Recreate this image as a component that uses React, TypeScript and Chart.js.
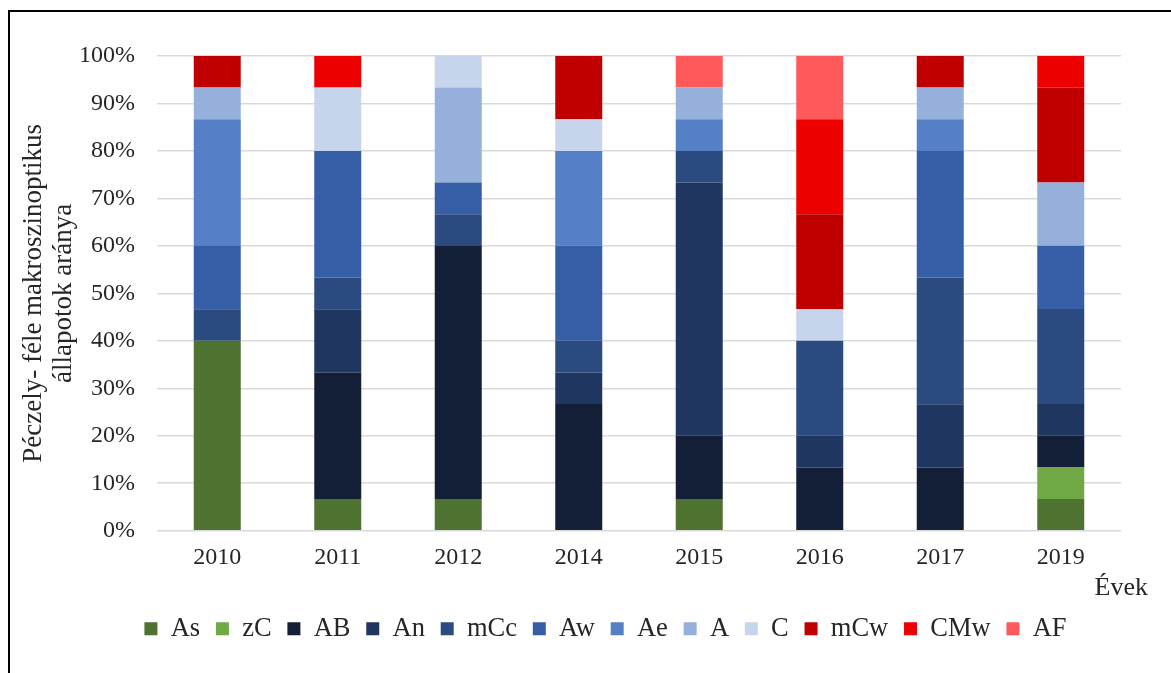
import React, { useEffect, useRef } from "react";
import { Chart, registerables } from "chart.js";

Chart.register(...registerables);

const years = ["2010", "2011", "2012", "2014", "2015", "2016", "2017", "2019"];
const yTicks = [0, 10, 20, 30, 40, 50, 60, 70, 80, 90, 100];

// shares in percent (steps of 1/15)
const As = [40, 6.67, 6.67, 0, 6.67, 0, 0, 6.67];
const zC = [0, 0, 0, 0, 0, 0, 0, 6.67];
const AB = [0, 26.67, 53.33, 26.67, 13.33, 13.33, 13.33, 6.67];
const An = [0, 13.33, 0, 6.67, 53.33, 6.67, 13.33, 6.67];
const mCc = [6.67, 6.67, 6.67, 6.67, 6.67, 20, 26.67, 20];
const Aw = [13.33, 26.67, 6.67, 20, 0, 0, 26.67, 13.33];
const Ae = [26.67, 0, 0, 20, 6.67, 0, 6.67, 0];
const A = [6.67, 0, 20, 0, 6.67, 0, 6.67, 13.33];
const C = [0, 13.33, 6.67, 6.67, 0, 6.67, 0, 0];
const mCw = [6.67, 0, 0, 13.33, 0, 20, 6.67, 20];
const CMw = [0, 6.67, 0, 0, 0, 20, 0, 6.67];
const AF = [0, 0, 0, 0, 6.67, 13.33, 0, 0];

const seriesNames = ["As", "zC", "AB", "An", "mCc", "Aw", "Ae", "A", "C", "mCw", "CMw", "AF"];
const seriesValues = [As, zC, AB, An, mCc, Aw, Ae, A, C, mCw, CMw, AF];
const seriesColors = [
  "#4E722F", "#70A845", "#131F36", "#1F3660", "#2A4A80", "#365EA6",
  "#557FC7", "#96B0DC", "#C7D5EC", "#C00000", "#EE0000", "#FF5959",
];

const FONT = '"Liberation Serif", "Times New Roman", serif';
const TEXT = "#262626";

const evekPlugin = {
  id: "evekLabel",
  afterDraw(chart: any) {
    const { ctx, chartArea } = chart;
    ctx.save();
    ctx.font = `26px ${FONT}`;
    ctx.fillStyle = TEXT;
    ctx.textAlign = "right";
    ctx.textBaseline = "middle";
    ctx.fillText("Évek", chartArea.right + 27, chartArea.bottom + 57);
    ctx.restore();
  },
};

export default function App() {
  const ref = useRef<HTMLCanvasElement | null>(null);

  useEffect(() => {
    if (!ref.current) return;
    const chart = new Chart(ref.current, {
      type: "bar",
      data: {
        labels: years,
        datasets: seriesNames.map((name, i) => ({
          label: name,
          data: seriesValues[i],
          backgroundColor: seriesColors[i],
          borderWidth: 0,
          categoryPercentage: 1,
          barPercentage: 0.39,
        })),
      },
      plugins: [evekPlugin],
      options: {
        responsive: false,
        animation: false,
        devicePixelRatio: 1,
        layout: { padding: { left: 0, right: 0, top: 56, bottom: 21 } },
        plugins: {
          tooltip: { enabled: false },
          title: { display: false },
          legend: {
            position: "bottom",
            fullSize: true,
            labels: {
              boxWidth: 13,
              boxHeight: 13,
              padding: 15.8,
              color: TEXT,
              font: { family: FONT, size: 26.5 },
            },
          },
        },
        scales: {
          x: {
            stacked: true,
            grid: { display: false, drawTicks: false },
            border: { display: false },
            ticks: {
              color: TEXT,
              padding: 13,
              font: { family: FONT, size: 24 },
              maxRotation: 0,
            },
            afterFit: (s: any) => {
              s.height = 69;
            },
          },
          y: {
            stacked: true,
            min: 0,
            max: 100,
            afterBuildTicks: (s: any) => {
              s.ticks = yTicks.map((v) => ({ value: v }));
            },
            grid: { color: "#d9d9d9", lineWidth: 1.5, drawTicks: false },
            border: { display: false },
            ticks: {
              color: TEXT,
              padding: 22,
              font: { family: FONT, size: 24 },
              callback: (v: any) => v + "%",
            },
            title: {
              display: true,
              text: ["Péczely- féle makroszinoptikus", "állapotok aránya"],
              color: TEXT,
              font: { family: FONT, size: 27, lineHeight: 1.1 },
              padding: { top: 19, bottom: 0 },
            },
            afterFit: (s: any) => {
              s.width = 157;
            },
          },
          yRight: {
            position: "right",
            display: true,
            grid: { display: false, drawTicks: false },
            border: { display: false },
            ticks: { display: false },
            afterFit: (s: any) => {
              s.width = 90;
            },
          },
        },
      },
    } as any);
    return () => chart.destroy();
  }, []);

  return (
    <div
      style={{
        position: "fixed",
        left: 0,
        top: 0,
        width: 1171,
        height: 673,
        overflow: "hidden",
        background: "#fff",
      }}
    >
      <div
        style={{
          position: "absolute",
          left: 8,
          top: 10,
          width: 1200,
          height: 700,
          borderTop: "2px solid #000",
          borderLeft: "2px solid #000",
        }}
      />
      <canvas
        ref={ref}
        width={1211}
        height={673}
        style={{ position: "absolute", left: 0, top: 0, width: 1211, height: 673 }}
      />
    </div>
  );
}
